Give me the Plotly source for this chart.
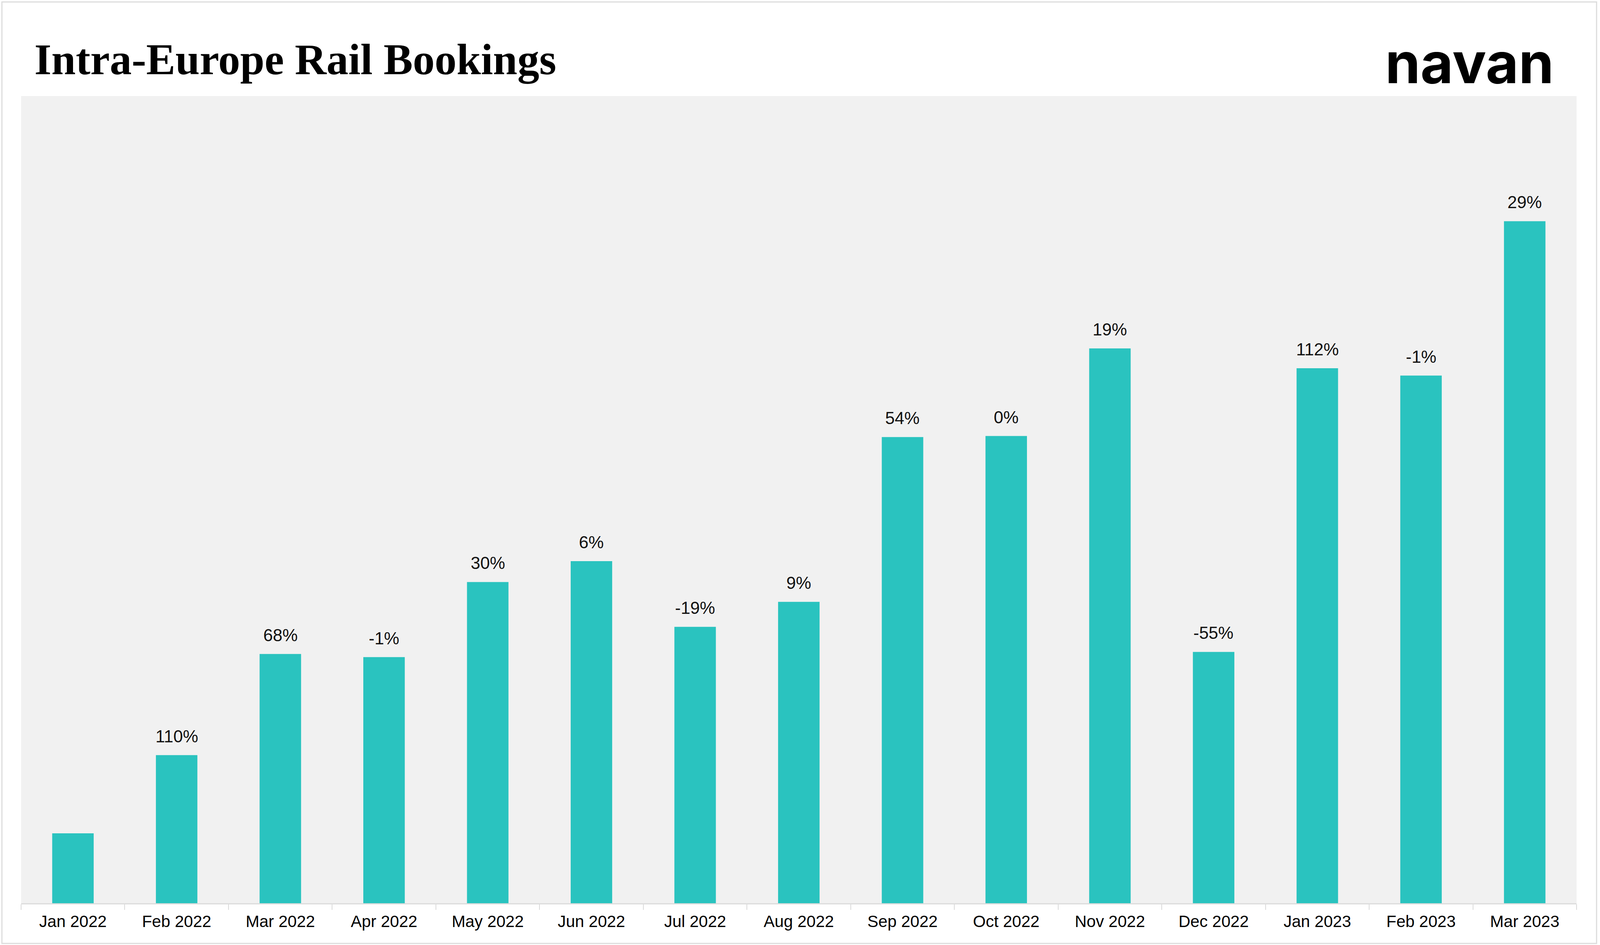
import plotly.graph_objects as go

months = ["Jan 2022", "Feb 2022", "Mar 2022", "Apr 2022", "May 2022", "Jun 2022",
          "Jul 2022", "Aug 2022", "Sep 2022", "Oct 2022", "Nov 2022", "Dec 2022",
          "Jan 2023", "Feb 2023", "Mar 2023"]
bookings = [67, 142, 239, 236, 308, 328, 265, 289, 447, 448, 532, 241, 513, 506, 654]
change_labels = ["", "110%", "68%", "-1%", "30%", "6%", "-19%", "9%", "54%", "0%",
                 "19%", "-55%", "112%", "-1%", "29%"]

# Reference frame is 4189 x 2420; the browser viewport is 4096 wide, so
# horizontal positions are scaled to fit.
REF_W = 4189
W, H = 4096, 2420
SX = W / REF_W

L, R, T, B = round(55 * SX), round(61 * SX), 246, 107
PW, PH = W - L - R, H - T - B

def px_x(x):
    return (x * SX - L) / PW

def px_y(y):
    return (H - B - y) / PH

fig = go.Figure()
fig.add_trace(go.Bar(
    x=months, y=bookings,
    marker=dict(color="#2AC3BF", line=dict(width=0)),
    hoverinfo="skip",
))

for m, v, lab in zip(months, bookings, change_labels):
    if lab:
        fig.add_annotation(
            x=m, y=v, xref="x", yref="y", text=lab, showarrow=False,
            yanchor="bottom", yshift=22,
            font=dict(family="Liberation Sans, Arial, sans-serif", size=44, color="#111111"),
        )

# Title
fig.add_annotation(
    x=px_x(88), y=px_y(152), xref="paper", yref="paper",
    text="<b>Intra-Europe Rail Bookings</b>", showarrow=False,
    xanchor="left", yanchor="middle",
    font=dict(family="Liberation Serif, serif", size=112, color="#000000"),
)
# Logo wordmark
fig.add_annotation(
    x=px_x(4070), y=px_y(160), xref="paper", yref="paper",
    text="<b>navan</b>", showarrow=False,
    xanchor="right", yanchor="middle",
    font=dict(family="Inter, Roboto, sans-serif", size=145, color="#000000"),
)

# Outer frame
fig.add_shape(
    type="rect", xref="paper", yref="paper",
    x0=px_x(5), x1=px_x(4180), y0=px_y(2416), y1=px_y(5),
    line=dict(color="#DCDCDC", width=3), fillcolor="rgba(0,0,0,0)", layer="below",
)

fig.update_layout(
    width=W, height=H,
    margin=dict(l=L, r=R, t=T, b=B, pad=0),
    paper_bgcolor="#FFFFFF",
    plot_bgcolor="#F1F1F1",
    bargap=0.6,
    showlegend=False,
    xaxis=dict(
        type="category",
        showgrid=False, zeroline=False,
        showline=True, linecolor="#DCDCDC", linewidth=3,
        ticks="outside", tickson="boundaries", ticklen=14,
        tickcolor="#D9D9D9", tickwidth=2,
        ticklabelstandoff=8,
        tickfont=dict(family="Liberation Sans, Arial, sans-serif", size=42, color="#000000"),
    ),
    yaxis=dict(
        range=[0, 774], visible=False, showgrid=False, zeroline=False,
    ),
)

fig.write_html(
    "out.html",
    config={"displayModeBar": False},
    post_script="document.body.style.margin='0';document.body.style.padding='0';"
                "document.documentElement.style.overflow='hidden';",
)
